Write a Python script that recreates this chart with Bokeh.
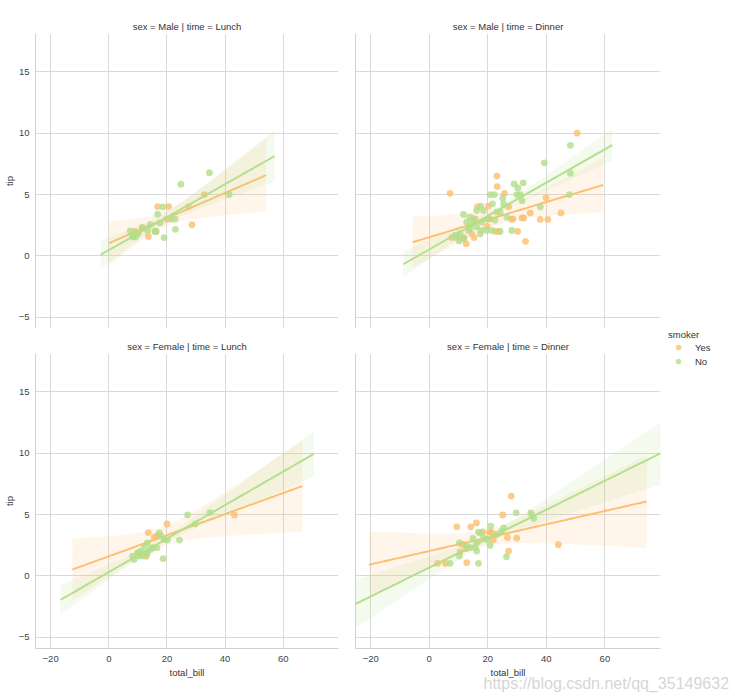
import numpy as np
from bokeh.plotting import figure
from bokeh.models import Range1d, FixedTicker, CustomJSTickFormatter, Legend, LegendItem, Title
from bokeh.layouts import column, row
from bokeh.embed import file_html
from bokeh.resources import INLINE

COL_YES = "#fdbf6f"
COL_NO = "#b2df8a"
FONT = "Liberation Sans"
FS = "9.5px"

X_TICKS = [-20, 0, 20, 40, 60]
Y_TICKS = [-5, 0, 5, 10, 15]
SMOKER_LABELS = ["Yes", "No"]

# ---- Male | Lunch ----
ml_yes_x = [16.8, 20.6, 28.6, 13.6, 16.0, 9.0, 32.9, 27.4, 19.9, 11.5]
ml_yes_y = [4.02, 4.02, 2.54, 1.59, 2.0, 2.0, 5.0, 4.0, 3.0, 2.3]
ml_no_x = [7.4, 8.2, 9.2, 10.1, 11.6, 13.3, 14.3, 15.9, 16.3, 16.8, 17.6, 18.6, 19.0, 21.4, 22.8, 22.9, 24.8, 34.6, 41.4, 8.5]
ml_no_y = [2.04, 1.55, 1.55, 1.8, 2.3, 2.1, 2.55, 2.0, 2.0, 3.4, 2.7, 4.0, 1.5, 3.0, 3.0, 2.17, 5.84, 6.77, 5.0, 1.8]

# ---- Male | Dinner ----
md_yes_x = [7.1, 23.1, 23.2, 25.7, 50.5, 39.9, 45.0, 32.9, 12.6, 37.9, 40.5, 32.2, 34.5, 31.7, 28.6, 27.9, 30.2, 22.5, 23.7, 27.1, 20.2, 16.5, 15.7, 15.3, 7.7, 19.7, 20.8, 11.9, 14.5]
md_yes_y = [5.1, 6.5, 5.65, 5.1, 10.0, 4.73, 3.5, 1.19, 1.0, 2.97, 2.97, 3.1, 3.5, 3.1, 3.0, 3.0, 2.0, 2.0, 2.0, 4.0, 4.05, 4.0, 3.0, 1.5, 1.5, 2.4, 3.0, 1.5, 1.8]
md_no_x = [48.2, 39.3, 48.2, 47.9, 29.0, 32.1, 30.3, 31.1, 29.9, 31.7, 25.1, 25.4, 20.8, 22.2, 21.6, 37.9, 17.6, 16.2, 18.5, 23.1, 24.2, 26.5, 22.5, 19.9, 17.9, 13.9, 11.7, 12.8, 14.5, 16.2, 17.9, 19.7, 24.2, 28.2, 10.5, 9.4, 10.2, 11.7, 13.4, 15.1, 13.9, 17.4, 21.4, 8.8]
md_no_y = [9.0, 7.58, 6.73, 5.0, 5.86, 5.95, 5.54, 5.0, 5.0, 4.5, 4.7, 4.24, 5.0, 5.0, 4.24, 4.0, 4.05, 3.7, 3.7, 3.57, 3.57, 3.16, 2.9, 3.0, 2.76, 3.16, 3.38, 2.76, 2.62, 2.35, 2.08, 2.08, 2.0, 2.08, 1.81, 1.49, 1.22, 1.41, 2.08, 3.03, 2.22, 1.81, 2.08, 1.68]

# ---- Female | Lunch ----
fl_yes_x = [13.55, 20.0, 16.55, 15.6, 43.2, 10.1, 12.9]
fl_yes_y = [3.53, 4.23, 3.26, 3.13, 4.97, 1.8, 1.6]
fl_no_x = [27.1, 34.8, 29.8, 24.3, 20.2, 18.7, 17.4, 17.9, 19.1, 16.6, 14.5, 13.3, 13.3, 12.2, 11.0, 9.9, 8.7, 8.2, 10.5, 11.6, 12.8, 15.1]
fl_no_y = [4.97, 5.16, 4.24, 2.92, 2.92, 1.41, 3.51, 3.24, 2.97, 2.3, 2.16, 1.89, 2.7, 2.43, 2.03, 1.89, 1.35, 1.62, 1.62, 1.62, 1.76, 2.3]

# ---- Female | Dinner ----
fd_yes_x = [28.0, 25.1, 9.4, 14.2, 16.1, 44.1, 27.1, 29.9, 26.7, 21.9, 21.4, 18.3, 12.8, 2.86, 5.5, 10.5, 12.6, 11.4, 20.6]
fd_yes_y = [6.49, 4.97, 4.0, 4.0, 4.32, 2.54, 2.03, 3.08, 3.14, 2.92, 3.51, 3.59, 1.08, 1.03, 1.03, 1.95, 2.22, 2.57, 3.57]
fd_no_x = [29.7, 34.7, 35.7, 35.1, 21.0, 25.4, 24.8, 16.8, 17.4, 14.9, 19.7, 20.8, 16.2, 13.9, 15.7, 16.2, 10.3, 10.3, 7.1, 16.8, 26.4, 12.8, 18.5, 23.1]
fd_no_y = [5.14, 5.14, 4.68, 4.92, 4.05, 3.92, 3.65, 3.57, 3.51, 3.05, 2.97, 2.49, 2.7, 2.3, 2.3, 2.03, 2.7, 1.62, 1.03, 1.03, 1.57, 2.43, 3.11, 3.38]

# x extent of each regression line (as drawn in the reference)
line_extent = {
    "ml": {"yes": (0.0, 54.1), "no": (-2.8, 57.0)},
    "md": {"yes": (-5.7, 59.4), "no": (-8.9, 62.5)},
    "fl": {"yes": (-12.5, 66.6), "no": (-16.6, 70.5)},
    "fd": {"yes": (-20.6, 74.3), "no": (-25.5, 79.1)},
}

X_RANGE = (-25.2, 79.0)
Y_RANGE = (-5.9, 18.1)

# two-sided 95% Student t quantiles by degrees of freedom
T95 = {3: 3.182, 4: 2.776, 5: 2.571, 6: 2.447, 7: 2.365, 8: 2.306, 10: 2.228,
       15: 2.131, 20: 2.086, 30: 2.042, 40: 2.021, 60: 2.000}


def t_quant(df):
    keys = [k for k in sorted(T95) if k <= df]
    return T95[keys[-1]] if keys else T95[3]


def fit_band(x, y, x0, x1):
    x = np.asarray(x, float)
    y = np.asarray(y, float)
    b, a = np.polyfit(x, y, 1)
    xs = np.linspace(x0, x1, 120)
    yhat = a + b * xs
    n = len(x)
    resid = y - (a + b * x)
    s = np.sqrt(np.sum(resid ** 2) / (n - 2))
    sxx = np.sum((x - x.mean()) ** 2)
    se = s * np.sqrt(1.0 / n + (xs - x.mean()) ** 2 / sxx)
    t = t_quant(n - 2)
    return xs, yhat, yhat - t * se, yhat + t * se


minus_fmt = CustomJSTickFormatter(code="return tick < 0 ? '\u2212' + Math.abs(tick) : String(tick);")
blank_fmt = CustomJSTickFormatter(code="return '';")


def make_panel(title, key, yes_x, yes_y, no_x, no_y, bottom_row, left_col):
    p = figure(
        frame_width=303 if left_col else 305, frame_height=295,
        x_range=Range1d(*X_RANGE), y_range=Range1d(*Y_RANGE),
        output_backend="svg", toolbar_location=None,
        min_border_left=35 if left_col else 15,
        min_border_right=2 if left_col else 70,
        min_border_top=33 if not bottom_row else 25,
        min_border_bottom=0 if not bottom_row else 46,
        background_fill_color="white", border_fill_color="white",
    )
    p.outline_line_color = None
    p.title.text = title
    p.title.align = "center"
    p.title.text_font = FONT
    p.title.text_font_size = FS
    p.title.text_font_style = "normal"
    p.title.text_color = "#333333"
    p.title.standoff = 3

    for ax in (p.xaxis[0], p.yaxis[0]):
        ax.axis_line_color = "#d0d0d0"
        ax.axis_line_width = 1
        ax.major_tick_line_color = None
        ax.minor_tick_line_color = None
        ax.major_tick_out = 0
        ax.major_tick_in = 0
        ax.major_label_text_font = FONT
        ax.major_label_text_font_size = FS
        ax.major_label_text_color = "#444444"
        ax.axis_label_text_font = FONT
        ax.axis_label_text_font_size = FS
        ax.axis_label_text_font_style = "normal"
        ax.axis_label_text_color = "#333333"
        ax.formatter = minus_fmt
    p.xaxis[0].ticker = FixedTicker(ticks=X_TICKS)
    p.yaxis[0].ticker = FixedTicker(ticks=Y_TICKS)
    p.xaxis[0].major_label_standoff = 7
    p.yaxis[0].major_label_standoff = 6
    p.xaxis[0].axis_label_standoff = 2
    p.yaxis[0].axis_label_standoff = 1

    if bottom_row:
        p.xaxis[0].axis_label = "total_bill"
    else:
        p.xaxis[0].formatter = blank_fmt
        p.xaxis[0].major_label_text_font_size = "1px"
        p.xaxis[0].major_label_standoff = 0
    if left_col:
        p.yaxis[0].axis_label = "tip"
    else:
        p.yaxis[0].formatter = blank_fmt
        p.yaxis[0].major_label_text_font_size = "1px"
        p.yaxis[0].major_label_standoff = 0

    p.xgrid.ticker = FixedTicker(ticks=X_TICKS)
    p.ygrid.ticker = FixedTicker(ticks=Y_TICKS)
    for g in (p.xgrid[0], p.ygrid[0]):
        g.grid_line_color = "#d9d9d9"
        g.grid_line_width = 1

    rends = {}
    for hue, xs_, ys_, col in (("yes", yes_x, yes_y, COL_YES), ("no", no_x, no_y, COL_NO)):
        r = p.scatter(xs_, ys_, size=6.8, fill_color=col, fill_alpha=0.8, line_color=None)
        rends[hue] = r
        x0, x1 = line_extent[key][hue]
        fx, fy, lo, hi = fit_band(xs_, ys_, x0, x1)
        p.varea(x=fx, y1=lo, y2=hi, fill_color=col, fill_alpha=0.15)
        p.line(fx, fy, line_color=col, line_width=1.9)
    return p, rends


p_ml, _ = make_panel("sex = Male | time = Lunch", "ml", ml_yes_x, ml_yes_y, ml_no_x, ml_no_y, False, True)
p_md, _ = make_panel("sex = Male | time = Dinner", "md", md_yes_x, md_yes_y, md_no_x, md_no_y, False, False)
p_fl, _ = make_panel("sex = Female | time = Lunch", "fl", fl_yes_x, fl_yes_y, fl_no_x, fl_no_y, True, True)
p_fd, r_fd = make_panel("sex = Female | time = Dinner", "fd", fd_yes_x, fd_yes_y, fd_no_x, fd_no_y, True, False)

legend = Legend(
    items=[LegendItem(label=SMOKER_LABELS[0], renderers=[r_fd["yes"]]),
           LegendItem(label=SMOKER_LABELS[1], renderers=[r_fd["no"]])],
    title="smoker",
    location=(8, 280),
    orientation="vertical",
    background_fill_alpha=0, border_line_color=None,
    padding=0, margin=0, spacing=0,
    glyph_width=20, glyph_height=14, label_height=14,
    label_standoff=7,
    label_text_font=FONT, label_text_font_size=FS, label_text_color="#333333",
    title_text_font=FONT, title_text_font_size=FS, title_text_font_style="normal",
    title_text_color="#333333", title_standoff=0,
)
p_fd.add_layout(legend, "right")

watermark = Title(text="https://blog.csdn.net/qq_35149632", align="left", offset=128,
                  standoff=-15, text_font=FONT, text_font_size="16px",
                  text_font_style="normal", text_color="#d6d6d6")
p_fd.add_layout(watermark, "below")

layout = column(row(p_ml, p_md, spacing=0), row(p_fl, p_fd, spacing=0), spacing=0)

with open("out.html", "w") as f:
    f.write(file_html(layout, INLINE))
